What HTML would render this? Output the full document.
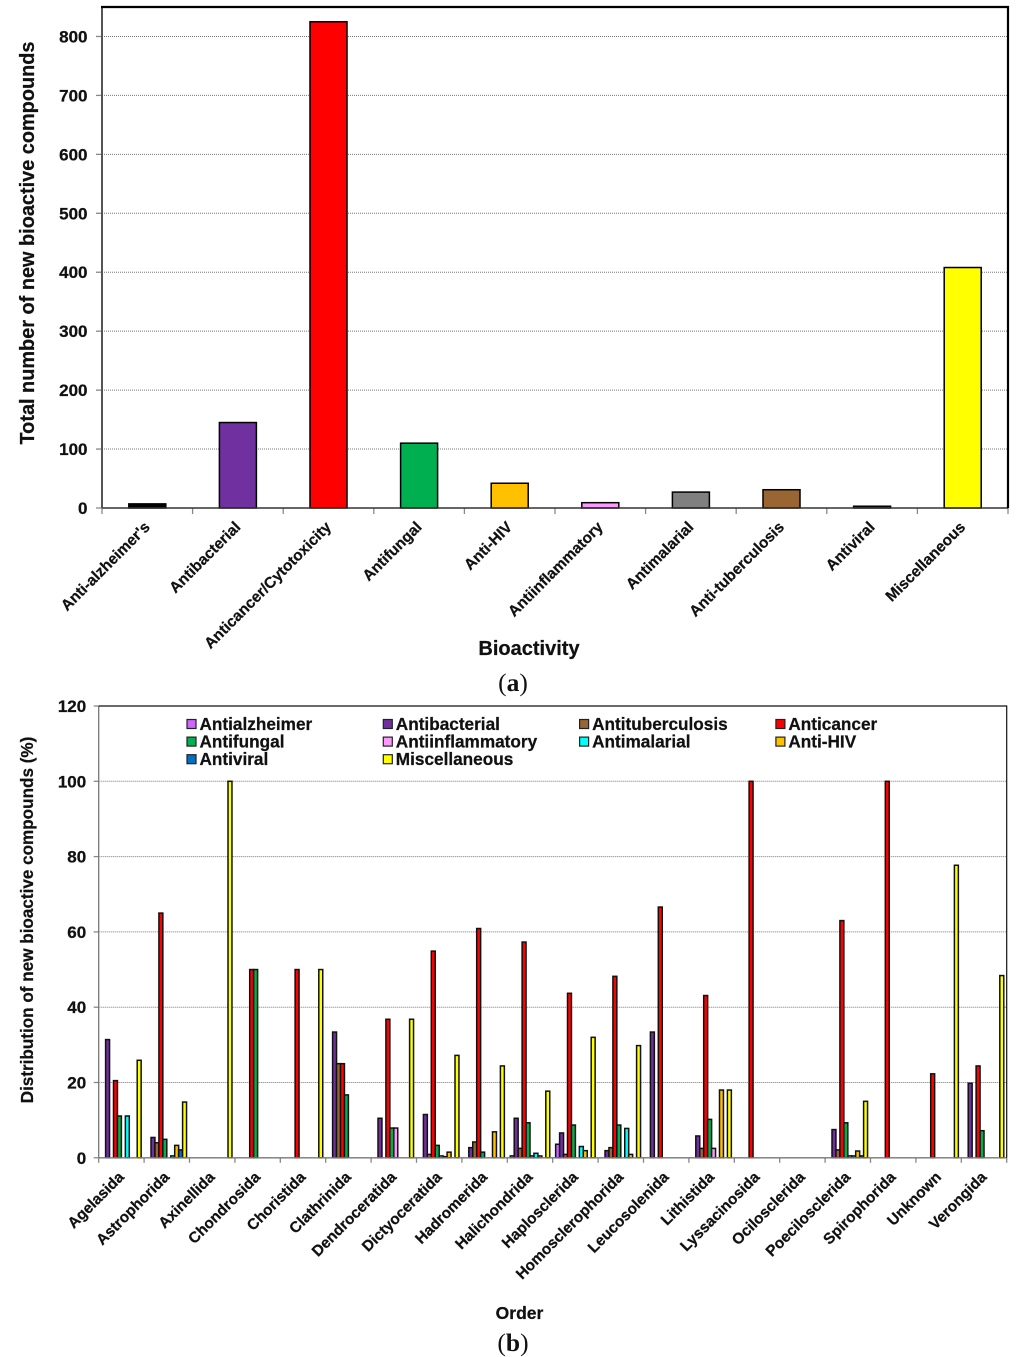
<!DOCTYPE html>
<html lang="en">
<head>
<meta charset="utf-8">
<title>Bioactive compounds charts</title>
<style>
html,body{margin:0;padding:0;background:#fff;width:1024px;height:1357px;overflow:hidden}
svg{display:block}
text{font-family:"Liberation Sans",Arial,sans-serif;font-weight:bold;fill:#111;stroke:#111;stroke-width:.25}
.serif{font-family:"Liberation Serif","Times New Roman",serif;stroke-width:0}
</style>
</head>
<body>
<svg id="figure" xmlns="http://www.w3.org/2000/svg" width="1024" height="1357" viewBox="0 0 1024 1357"></svg>
<script>
// Chart (a) data
const bioactivityCategories = ["Anti-alzheimer's","Antibacterial","Anticancer/Cytotoxicity","Antifungal","Anti-HIV","Antiinflammatory","Antimalarial","Anti-tuberculosis","Antiviral","Miscellaneous"];
const bioactivityTotals = [7,145,825,110,42,9,27,31,3,408];
const bioactivityColors = ["#000000","#7030A0","#FF0000","#00B050","#FFC000","#FF99FF","#808080","#996633","#0070C0","#FFFF00"];
const totalTicks = [0,100,200,300,400,500,600,700,800];

// Chart (b) data
const orderCategories = ["Agelasida","Astrophorida","Axinellida","Chondrosida","Choristida","Clathrinida","Dendroceratida","Dictyoceratida","Hadromerida","Halichondrida","Haplosclerida","Homosclerophorida","Leucosolenida","Lithistida","Lyssacinosida","Ocilosclerida","Poecilosclerida","Spirophorida","Unknown","Verongida"];
const antialzheimer    = [0,0,0,0,0,0,0,0,0,0.5,3.6,0,0,0,0,0,0,0,0,0];
const antibacterial    = [31.4,5.4,0,0,0,33.4,10.5,11.5,2.7,10.5,6.6,1.9,33.4,5.8,0,0,7.5,0,0,19.8];
const antituberculosis = [0,4,0,0,0,25,0,0.9,4.2,2.5,0.9,2.7,0,2.5,0,0,2.1,0,0,0];
const anticancer       = [20.5,65,0,50,50,25,36.8,54.9,60.9,57.3,43.7,48.2,66.6,43.1,100,0,63,100,22.3,24.4];
const antifungal       = [11.1,4.9,0,50,0,16.7,7.9,3.3,1.5,9.3,8.7,8.7,0,10.2,0,0,9.3,0,0,7.2];
const antiinflammatory = [0,0,0,0,0,0,7.9,0.5,0,0.5,0,0,0,2.5,0,0,0.5,0,0,0];
const antimalarial     = [11.1,0.5,0,0,0,0,0,0.3,0,1.2,3,7.8,0,0,0,0,0.5,0,0,0];
const antiHIV          = [0,3.3,0,0,0,0,0,1.5,6.9,0.5,1.9,0.9,0,18,0,0,1.8,0,0,0];
const antiviral        = [0,2.1,0,0,0,0,0,0,0,0,0,0,0,0,0,0,0.5,0,0,0];
const miscellaneous    = [25.9,14.8,100,0,50,0,36.8,27.2,24.4,17.7,32,29.8,0,18,0,0,15,0,77.7,48.4];
const percentTicks = [0,20,40,60,80,100,120];
const seriesNames = ["Antialzheimer","Antibacterial","Antituberculosis","Anticancer","Antifungal","Antiinflammatory","Antimalarial","Anti-HIV","Antiviral","Miscellaneous"];
const seriesColors = ["#CC66FF","#7030A0","#996633","#FF0000","#00B050","#FF99FF","#00FFFF","#FFC000","#0070C0","#FFFF00"];
const seriesValues = [antialzheimer,antibacterial,antituberculosis,anticancer,antifungal,antiinflammatory,antimalarial,antiHIV,antiviral,miscellaneous];

const NS = "http://www.w3.org/2000/svg";
const fig = document.getElementById("figure");
function mk(parent, tag, attrs, txt) {
  const el = document.createElementNS(NS, tag);
  for (const k in attrs) el.setAttribute(k, attrs[k]);
  if (txt !== undefined) el.textContent = txt;
  parent.appendChild(el);
  return el;
}

// ---------- Chart (a) ----------
const aLeft = 102, aRight = 1008, aTop = 7, aZero = 508, aMax = 850;
const aStep = (aRight - aLeft) / bioactivityCategories.length;
const aY = v => aZero - v * (aZero - aTop) / aMax;
const aX = i => aLeft + aStep * i;
const aBarW = 37;

const chartA = mk(fig, "g", {});



totalTicks.forEach(t => {
  const tg = mk(chartA, "g", {});
  
  
  if (t > 0) mk(tg, "line", {x1: aLeft, x2: aRight, y1: aY(t), y2: aY(t), stroke: "#777", "stroke-width": 1, "stroke-dasharray": "1 1"});
  mk(tg, "line", {x1: aLeft - 6, x2: aLeft, y1: aY(t), y2: aY(t), stroke: "#888", "stroke-width": 1.3});
  mk(tg, "text", {x: aLeft - 14.5, y: aY(t) + 6, "text-anchor": "end", "font-size": 17}, t);
});

bioactivityCategories.forEach((c, i) => {
  const cx = aX(i) + aStep / 2;
  const bar = mk(chartA, "rect", {x: cx - aBarW / 2, y: aY(bioactivityTotals[i]), width: aBarW, height: aZero - aY(bioactivityTotals[i]), fill: bioactivityColors[i], stroke: "#000", "stroke-width": 1.5});
  
  
  const px = cx + 3.5, py = 528;
  const lab = mk(chartA, "text", {x: px, y: py, "text-anchor": "end", "font-size": 15.4, transform: "rotate(-45 " + px + " " + py + ")"}, c);
  
  
});
for (let i = 0; i <= bioactivityCategories.length; i++) {
  mk(chartA, "line", {x1: aX(i), x2: aX(i), y1: aZero, y2: aZero + 6, stroke: "#888", "stroke-width": 1.3});
}
const aBase = mk(chartA, "line", {x1: aLeft, x2: aRight, y1: aZero, y2: aZero, stroke: "#333", "stroke-width": 1.6});


const aAxis = mk(chartA, "line", {x1: aLeft, x2: aLeft, y1: aTop, y2: aZero, stroke: "#555", "stroke-width": 2});


const aFrame = mk(chartA, "path", {d: "M" + (aLeft - 1) + " " + aTop + "H" + aRight + "V" + aZero, fill: "none", stroke: "#000", "stroke-width": 2.2});


const aYT = mk(chartA, "text", {x: 0, y: 0, "text-anchor": "middle", "font-size": 19.9, transform: "translate(34 243) rotate(-90)"}, "Total number of new bioactive compounds");


const aXT = mk(chartA, "text", {x: 529, y: 655, "text-anchor": "middle", "font-size": 20}, "Bioactivity");


const capA = mk(fig, "text", {x: 513, y: 691, "text-anchor": "middle", "font-size": 25.5, "class": "serif", "font-weight": "normal"});


mk(capA, "tspan", {"font-weight": "normal"}, "(");
mk(capA, "tspan", {"font-weight": "bold"}, "a");
mk(capA, "tspan", {"font-weight": "normal"}, ")");

// ---------- Chart (b) ----------
const bLeft = 98.7, bRight = 1006.7, bTop = 706, bZero = 1157.8, bMax = 120;
const bStep = (bRight - bLeft) / orderCategories.length;
const bY = v => bZero - v * (bZero - bTop) / bMax;
const bX = i => bLeft + bStep * i;
const bPitch = 3.95;
const bGap = (bStep - bPitch * seriesValues.length) / 2;

const chartB = mk(fig, "g", {});



percentTicks.forEach(t => {
  const tg = mk(chartB, "g", {});
  
  
  if (t > 0 && t < bMax) mk(tg, "line", {x1: bLeft, x2: bRight, y1: bY(t), y2: bY(t), stroke: "#777", "stroke-width": 1, "stroke-dasharray": "1 1"});
  mk(tg, "line", {x1: bLeft - 5, x2: bLeft, y1: bY(t), y2: bY(t), stroke: "#888", "stroke-width": 1.3});
  mk(tg, "text", {x: bLeft - 12.5, y: bY(t) + 6, "text-anchor": "end", "font-size": 17}, t);
});

seriesValues.forEach((vals, s) => {
  const sg = mk(chartB, "g", {});
  
  
  vals.forEach((v, i) => {
    if (!v) return;
    const r = mk(sg, "rect", {x: bX(i) + bGap + s * bPitch, y: bY(v), width: bPitch, height: bZero - bY(v), fill: seriesColors[s], stroke: "#111", "stroke-width": 1.5});
    
    
  });
});

orderCategories.forEach((c, i) => {
  const cx = bX(i) + bStep / 2;
  const px = cx + 3.5, py = 1178;
  const lab = mk(chartB, "text", {x: px, y: py, "text-anchor": "end", "font-size": 15.3, transform: "rotate(-45 " + px + " " + py + ")"}, c);
  
  
});
for (let i = 0; i <= orderCategories.length; i++) {
  mk(chartB, "line", {x1: bX(i), x2: bX(i), y1: bZero, y2: bZero + 5, stroke: "#888", "stroke-width": 1.3});
}
const bBase = mk(chartB, "line", {x1: bLeft, x2: bRight, y1: bZero, y2: bZero, stroke: "#777", "stroke-width": 1.3});


const bAxis = mk(chartB, "line", {x1: bLeft, x2: bLeft, y1: bTop, y2: bZero, stroke: "#777", "stroke-width": 1.3});


const bFrame = mk(chartB, "path", {d: "M" + bLeft + " " + bTop + "H" + bRight + "V" + bZero, fill: "none", stroke: "#111", "stroke-width": 1.2});



const legend = mk(chartB, "g", {});


seriesNames.forEach((n, s) => {
  const col = s % 4, row = Math.floor(s / 4);
  const lx = 187 + col * 196.3, ly = 719.5 + row * 17.6;
  const lg = mk(legend, "g", {});
  
  
  mk(lg, "rect", {x: lx, y: ly, width: 9, height: 9, fill: seriesColors[s], stroke: "#222", "stroke-width": 1.2});
  mk(lg, "text", {x: lx + 12.5, y: ly + 10.5, "font-size": 17.2}, n);
});

const bYT = mk(chartB, "text", {x: 0, y: 0, "text-anchor": "middle", "font-size": 17.1, transform: "translate(33 920) rotate(-90)"}, "Distribution of new bioactive compounds (%)");


const bXT = mk(chartB, "text", {x: 519.5, y: 1319, "text-anchor": "middle", "font-size": 17.5}, "Order");


const capB = mk(fig, "text", {x: 513, y: 1351, "text-anchor": "middle", "font-size": 25.5, "class": "serif", "font-weight": "normal"});


mk(capB, "tspan", {"font-weight": "normal"}, "(");
mk(capB, "tspan", {"font-weight": "bold"}, "b");
mk(capB, "tspan", {"font-weight": "normal"}, ")");
</script>
</body>
</html>
